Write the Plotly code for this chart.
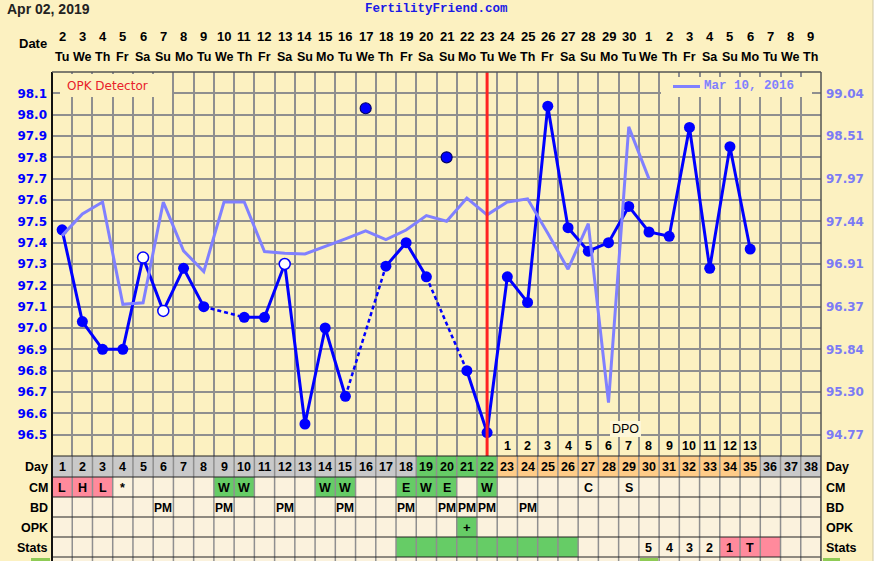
import plotly.graph_objects as go

W, H = 877, 561
def py(p):
    return 1 - p / H
def px(p):
    return p / W

# ---------------- data ----------------
dates = ["2", "3", "4", "5", "6", "7", "8", "9", "10", "11", "12", "13", "14", "15", "16",
         "17", "18", "19", "20", "21", "22", "23", "24", "25", "26", "27", "28", "29", "30",
         "1", "2", "3", "4", "5", "6", "7", "8", "9"]
weekdays = ["Tu", "We", "Th", "Fr", "Sa", "Su", "Mo", "Tu", "We", "Th", "Fr", "Sa", "Su", "Mo",
            "Tu", "We", "Th", "Fr", "Sa", "Su", "Mo", "Tu", "We", "Th", "Fr", "Sa", "Su", "Mo",
            "Tu", "We", "Th", "Fr", "Sa", "Su", "Mo", "Tu", "We", "Th"]
cycle_days = list(range(1, 39))

days = list(range(1, 36))
temps = [97.46, 97.03, 96.90, 96.90, 97.33, 97.08, 97.28, 97.10, None, 97.05,
         97.05, 97.30, 96.55, 97.00, 96.68, 98.03, 97.29, 97.40, 97.24, 97.80,
         96.80, 96.51, 97.24, 97.12, 98.04, 97.47, 97.36, 97.40, 97.57, 97.45,
         97.43, 97.94, 97.28, 97.85, 97.37]
open_days = [5, 6, 12]
excluded_days = [16, 20]
ovulation_day = 22

prev_days = list(range(1, 31))
prev_temps = [97.26, 97.53, 97.68, 96.40, 96.42, 97.68, 97.07, 96.81, 97.68, 97.68,
              97.06, 97.04, 97.03, 97.13, 97.22, 97.32, 97.21, 97.33, 97.51, 97.44,
              97.73, 97.52, 97.68, 97.72, 97.29, 96.84, 97.41, 95.17, 98.62, 97.97]
prev_label = "Mar 10, 2016"

left_ticks = [96.5, 96.6, 96.7, 96.8, 96.9, 97.0, 97.1, 97.2, 97.3, 97.4, 97.5, 97.6,
              97.7, 97.8, 97.9, 98.0, 98.1]
right_ticktext = ["94.77", "95.30", "95.84", "96.37", "96.91", "97.44", "97.97", "98.51", "99.04"]

dpo_days = list(range(23, 36))
dpo_labels = [str(i) for i in range(1, 14)]

day_colors = (["gray"] * 18 + ["green"] * 4 + ["orange"] * 13 + ["gray"] * 3)
cm_values = {1: "L", 2: "H", 3: "L", 4: "*", 9: "W", 10: "W", 14: "W", 15: "W",
             18: "E", 19: "W", 20: "E", 22: "W", 27: "C", 29: "S"}
cm_colors = {1: "pink", 2: "pink", 3: "pink", 9: "green", 10: "green", 14: "green",
             15: "green", 18: "green", 19: "green", 20: "green", 22: "green"}
bd_days = [6, 9, 12, 15, 18, 20, 21, 22, 24]
opk_values = {21: "+"}
opk_colors = {21: "green"}
stats_green = [18, 19, 20, 21, 22, 23, 24, 25, 26]
stats_values = {30: "5", 31: "4", 32: "3", 33: "2", 34: "1", 35: "T"}
stats_pink = [34, 35, 36]
row_names = ["Day", "CM", "BD", "OPK", "Stats"]

# ---------------- style ----------------
BG = "#FCF1C1"
CELL = "#FBF2DD"
GRID = "#8f8f8f"
BLUE = "#0000ff"
LIGHT = "#8080ff"
COL = {"gray": "#C9C9C9", "green": "#66CC66", "orange": "#FFCC88", "pink": "#FF8A9C"}
TFONT = "Liberation Sans"

X0, X1 = 52, 821
Y_TOP, Y_BOT = 72, 456
ROW_Y = [456, 477, 497, 517, 537, 557]

# right axis mapping (96.5 -> 94.77, 98.1 -> 99.04)
k = (99.04 - 94.77) / (98.1 - 96.5)
r_lo = 94.77 + (96.4 - 96.5) * k
r_hi = 94.77 + (98.2 - 96.5) * k
right_tickvals = [94.77 + i * 0.2 * k for i in range(9)]

fig = go.Figure()

# previous cycle line
fig.add_trace(go.Scatter(x=prev_days, y=prev_temps, yaxis="y2", mode="lines",
                         line=dict(color=LIGHT, width=3), hoverinfo="skip", showlegend=False))

# main line
solid = [None if (t is None or d in excluded_days) else t for d, t in zip(days, temps)]
valid = [(d, t) for d, t in zip(days, solid) if t is not None]
dx, dy = [], []
for (d1, t1), (d2, t2) in zip(valid, valid[1:]):
    if d2 - d1 > 1:
        dx += [d1, d2, None]
        dy += [t1, t2, None]
fig.add_trace(go.Scatter(x=dx, y=dy, mode="lines", line=dict(color=BLUE, width=2.5, dash="4px,3px"),
                         hoverinfo="skip", showlegend=False))
fig.add_trace(go.Scatter(x=days, y=solid, mode="lines", connectgaps=False,
                         line=dict(color=BLUE, width=3), hoverinfo="skip", showlegend=False))

fx = [d for d, t in zip(days, solid) if t is not None and d not in open_days]
fy = [t for d, t in zip(days, solid) if t is not None and d not in open_days]
fig.add_trace(go.Scatter(x=fx, y=fy, mode="markers",
                         marker=dict(size=11, color=BLUE, line=dict(width=0)), showlegend=False))
ox = [d for d in open_days]
oy = [temps[d - 1] for d in open_days]
fig.add_trace(go.Scatter(x=ox, y=oy, mode="markers",
                         marker=dict(size=11, color="white", line=dict(width=1.5, color=BLUE)),
                         showlegend=False))
ex = [d for d in excluded_days]
ey = [temps[d - 1] for d in excluded_days]
fig.add_trace(go.Scatter(x=ex, y=ey, mode="markers",
                         marker=dict(size=11, color=BLUE, line=dict(width=1.2, color="#00006a")),
                         showlegend=False))

shapes = []
ann = []

# cover boxes
shapes.append(dict(type="rect", xref="paper", yref="paper", x0=px(60), x1=px(172), y0=py(97), y1=py(74),
                   fillcolor=BG, line=dict(width=0), layer="above"))
shapes.append(dict(type="rect", xref="paper", yref="paper", x0=px(661), x1=px(812), y0=py(97), y1=py(77),
                   fillcolor=BG, line=dict(width=0), layer="above"))
shapes.append(dict(type="rect", xref="paper", yref="paper", x0=px(610), x1=px(641), y0=py(437), y1=py(421),
                   fillcolor="#FDF6D8", line=dict(width=0), layer="above"))

# ovulation line
shapes.append(dict(type="line", xref="x", yref="paper", x0=ovulation_day, x1=ovulation_day,
                   y0=py(Y_BOT), y1=py(Y_TOP), line=dict(color="#ff2222", width=3), layer="above"))

# table cells
def cell(d, r, color):
    shapes.append(dict(type="rect", xref="x", yref="paper", x0=d - 0.5, x1=d + 0.5,
                       y0=py(ROW_Y[r + 1]), y1=py(ROW_Y[r]), fillcolor=color, line=dict(width=0),
                       layer="below"))

shapes.append(dict(type="rect", xref="x", yref="paper", x0=0.5, x1=38.5, y0=py(561), y1=py(456),
                   fillcolor=CELL, line=dict(width=0), layer="below"))
for d, c in zip(cycle_days, day_colors):
    cell(d, 0, COL[c])
for d, c in cm_colors.items():
    cell(d, 1, COL[c])
for d, c in opk_colors.items():
    cell(d, 3, COL[c])
for d in stats_green:
    cell(d, 4, COL["green"])
for d in stats_pink:
    cell(d, 4, COL["pink"])

# partial next row hints
for a, b in [(31, 50), (640, 658), (823, 840)]:
    shapes.append(dict(type="rect", xref="paper", yref="paper", x0=px(a), x1=px(b), y0=0, y1=py(558),
                       fillcolor="#8FCB55", line=dict(width=0), layer="above"))

# table grid
for i in range(39):
    shapes.append(dict(type="line", xref="x", yref="paper", x0=i + 0.5, x1=i + 0.5, y0=0, y1=py(456),
                       line=dict(color=GRID, width=1.5), layer="above"))
for yy in ROW_Y:
    shapes.append(dict(type="line", xref="paper", yref="paper", x0=px(X0), x1=px(X1), y0=py(yy), y1=py(yy),
                       line=dict(color="#222222", width=1), layer="above"))

# chart frame
shapes.append(dict(type="line", xref="paper", yref="paper", x0=px(X0), x1=px(X0), y0=0, y1=py(Y_TOP),
                   line=dict(color="#111111", width=2), layer="above"))
shapes.append(dict(type="line", xref="paper", yref="paper", x0=px(X1), x1=px(X1), y0=0, y1=py(Y_TOP),
                   line=dict(color="#555555", width=1.5), layer="above"))
shapes.append(dict(type="line", xref="paper", yref="paper", x0=px(X0), x1=px(X1), y0=py(Y_TOP), y1=py(Y_TOP),
                   line=dict(color="#555555", width=1.5), layer="above"))

# right outer edge
shapes.append(dict(type="rect", xref="paper", yref="paper", x0=px(873), x1=1, y0=0, y1=1,
                   fillcolor="#ffffff", line=dict(width=0), layer="above"))
shapes.append(dict(type="line", xref="paper", yref="paper", x0=px(873), x1=px(873), y0=0, y1=1,
                   line=dict(color="#cfc6a4", width=1), layer="above"))

# legend sample
shapes.append(dict(type="line", xref="paper", yref="paper", x0=px(673), x1=px(700), y0=py(86.5), y1=py(86.5),
                   line=dict(color=LIGHT, width=3), layer="above"))

def text(x, y, s, size=12, color="black", bold=True, family=TFONT, xref="x", xanchor="center"):
    ann.append(dict(x=x, y=py(y), xref=xref, yref="paper", text=s, showarrow=False,
                    xanchor=xanchor, yanchor="middle",
                    font=dict(family=family, size=size, color=color, weight="bold" if bold else "normal")))

# header
text(px(5), 9, "Apr 02, 2019", size=14, color="#222222", bold=True, family="Liberation Sans",
     xref="paper", xanchor="left")
text(px(436), 9, "FertilityFriend.com", size=12.5, color="#1a1ae6", family="Liberation Mono",
     xref="paper")
text(px(49), 43, "Date", size=13, xref="paper", xanchor="right")
for d, s, w in zip(cycle_days, dates, weekdays):
    text(d, 36, s, size=13)
    text(d, 57, w, size=12.5)

text(px(65), 86, "OPK Detector", size=12, color="#e8202a", bold=False, family="DejaVu Sans",
     xref="paper", xanchor="left")
text(px(702), 86.5, prev_label, size=12.5, color=LIGHT, family="Liberation Mono",
     xref="paper", xanchor="left")

# DPO
text(px(625.5), 428.5, "DPO", size=12.5, bold=False, xref="paper", xanchor="center")
for d, s in zip(dpo_days, dpo_labels):
    text(d, 446, s, size=12.5)

# table texts
row_mid = [(ROW_Y[i] + ROW_Y[i + 1]) / 2 + 0.5 for i in range(5)]
for d in cycle_days:
    text(d, row_mid[0], str(d), size=12.5)
for d, s in cm_values.items():
    text(d, row_mid[1], s, size=12.5)
for d in bd_days:
    text(d, row_mid[2], "PM", size=12)
for d, s in opk_values.items():
    text(d, row_mid[3], s, size=13)
for d, s in stats_values.items():
    text(d, row_mid[4], s, size=12.5)
for name, ym in zip(row_names, row_mid):
    text(px(50), ym, name, size=12.5, xref="paper", xanchor="right")
    text(px(824), ym, name, size=12.5, xref="paper", xanchor="left")

fig.update_layout(
    width=W, height=H, autosize=False,
    margin=dict(l=0, r=0, t=0, b=0),
    paper_bgcolor=BG, plot_bgcolor=BG,
    showlegend=False,
    shapes=shapes, annotations=ann,
    xaxis=dict(domain=[px(X0), px(X1)], range=[0.5, 38.5],
               tickvals=[i + 0.5 for i in range(39)], showticklabels=False, ticks="",
               showgrid=True, gridcolor=GRID, gridwidth=1.5, zeroline=False, showline=False,
               fixedrange=True),
    yaxis=dict(domain=[py(Y_BOT), py(Y_TOP)], range=[96.4, 98.2],
               tickvals=left_ticks, ticktext=["%.1f" % v for v in left_ticks],
               tickfont=dict(family="DejaVu Sans", size=12, color=BLUE, weight="bold"),
               ticks="", ticklabelstandoff=4,
               showgrid=True, gridcolor=GRID, gridwidth=1.5, zeroline=False, showline=False),
    yaxis2=dict(overlaying="y", side="right", range=[r_lo, r_hi],
                tickvals=right_tickvals, ticktext=right_ticktext,
                tickfont=dict(family="DejaVu Sans", size=12, color="#7b7bf5", weight="bold"),
                ticks="", ticklabelstandoff=4, showgrid=False, zeroline=False, showline=False),
)

fig.write_html("out.html", config={"displayModeBar": False},
               post_script="document.body.style.margin='0';document.body.style.overflow='hidden';")
